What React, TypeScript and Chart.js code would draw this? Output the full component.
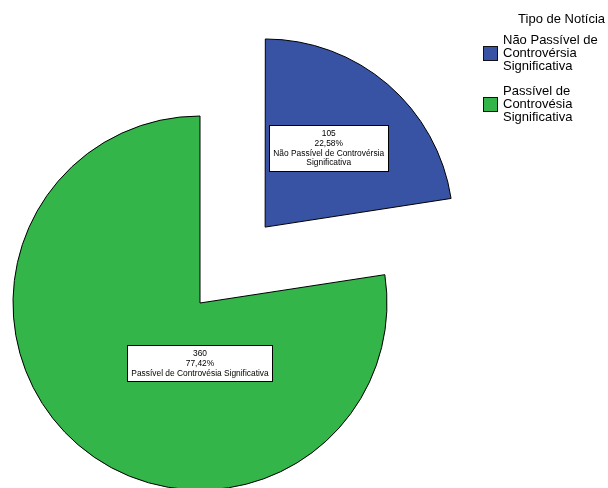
import React, { useEffect, useRef } from "react";
import { Chart, registerables } from "chart.js";

Chart.register(...registerables);

const categories = [
  "Não Passível de Controvérsia Significativa",
  "Passível de Controvésia Significativa",
];
const counts = [105, 360];
const percentLabels = ["22,58%", "77,42%"];
const sliceLabelLines = [
  ["Não Passível de Controvérsia", "Significativa"],
  ["Passível de Controvésia Significativa"],
];
const legendTitle = "Tipo de Notícia";
const legendLines = [
  ["Não Passível de", "Controvérsia", "Significativa"],
  ["Passível de", "Controvésia", "Significativa"],
];
const colors = ["#3953a4", "#33b54a"];
const explode = [400, 0];

const FONT = '"Liberation Sans", Arial, Helvetica, sans-serif';

const labelPlugin = {
  id: "sliceLabels",
  afterDatasetsDraw(chart: any) {
    const ctx = chart.ctx as CanvasRenderingContext2D;
    const meta = chart.getDatasetMeta(0);
    const rel = [
      [0.34, -0.425],
      [0.0, 0.3235],
    ];
    meta.data.forEach((arc: any, i: number) => {
      const mid = (arc.startAngle + arc.endAngle) / 2;
      const off = (arc.options.offset || 0) / 4;
      const tx = arc.x + Math.cos(mid) * off;
      const ty = arc.y + Math.sin(mid) * off;
      const cx = tx + rel[i][0] * arc.outerRadius;
      const cy = ty + rel[i][1] * arc.outerRadius;
      const lines = [String(counts[i]), percentLabels[i], ...sliceLabelLines[i]];
      ctx.save();
      ctx.font = `8.4px ${FONT}`;
      const lh = 9.7;
      let w = 0;
      lines.forEach((l) => (w = Math.max(w, ctx.measureText(l).width)));
      const bw = w + 8;
      const bh = lines.length * lh + 7;
      const bx = Math.round(cx - bw / 2) + 0.5;
      const by = Math.round(cy - bh / 2) + 0.5;
      ctx.fillStyle = "#ffffff";
      ctx.strokeStyle = "#000000";
      ctx.lineWidth = 1;
      ctx.fillRect(bx, by, Math.round(bw), Math.round(bh));
      ctx.strokeRect(bx, by, Math.round(bw), Math.round(bh));
      ctx.fillStyle = "#000000";
      ctx.textAlign = "center";
      ctx.textBaseline = "middle";
      lines.forEach((l, k) => {
        ctx.fillText(l, cx, by + 3.5 + lh * (k + 0.5));
      });
      ctx.restore();
    });
  },
  afterDraw(chart: any) {
    const ctx = chart.ctx as CanvasRenderingContext2D;
    ctx.save();
    ctx.font = `13px ${FONT}`;
    ctx.fillStyle = "#000000";
    ctx.textBaseline = "middle";
    ctx.textAlign = "right";
    ctx.fillText(legendTitle, 605, 19);
    ctx.textAlign = "left";
    const groupTop = [40, 91];
    legendLines.forEach((lines, i) => {
      lines.forEach((l, k) => ctx.fillText(l, 503, groupTop[i] + k * 13));
      const boxY = groupTop[i] + 13 - 7.5;
      ctx.fillStyle = colors[i];
      ctx.fillRect(483, Math.round(boxY), 15, 15);
      ctx.strokeStyle = "#111111";
      ctx.lineWidth = 1;
      ctx.strokeRect(483.5, Math.round(boxY) + 0.5, 14, 14);
      ctx.fillStyle = "#000000";
    });
    ctx.restore();
  },
};

export default function App() {
  const ref = useRef<HTMLCanvasElement | null>(null);
  useEffect(() => {
    if (!ref.current) return;
    Chart.defaults.font.family = FONT;
    const chart = new Chart(ref.current, {
      type: "pie",
      data: {
        labels: categories,
        datasets: [
          {
            data: counts,
            backgroundColor: colors,
            borderColor: "#000000",
            borderWidth: 1,
            offset: explode,
            hoverOffset: 0,
            clip: false,
          } as any,
        ],
      },
      options: {
        animation: false,
        responsive: false,
        radius: 187,
        cutout: "0%",
        layout: { padding: { left: 0, right: 208, top: 118, bottom: 0 } },
        plugins: {
          legend: { display: false },
          tooltip: { enabled: false },
        },
        events: [],
      } as any,
      plugins: [labelPlugin],
    });
    return () => chart.destroy();
  }, []);
  return (
    <div style={{ position: "fixed", left: 0, top: 0, width: 608, height: 488, background: "#fff" }}>
      <canvas ref={ref} width={608} height={488} style={{ width: 608, height: 488, display: "block" }} />
    </div>
  );
}
